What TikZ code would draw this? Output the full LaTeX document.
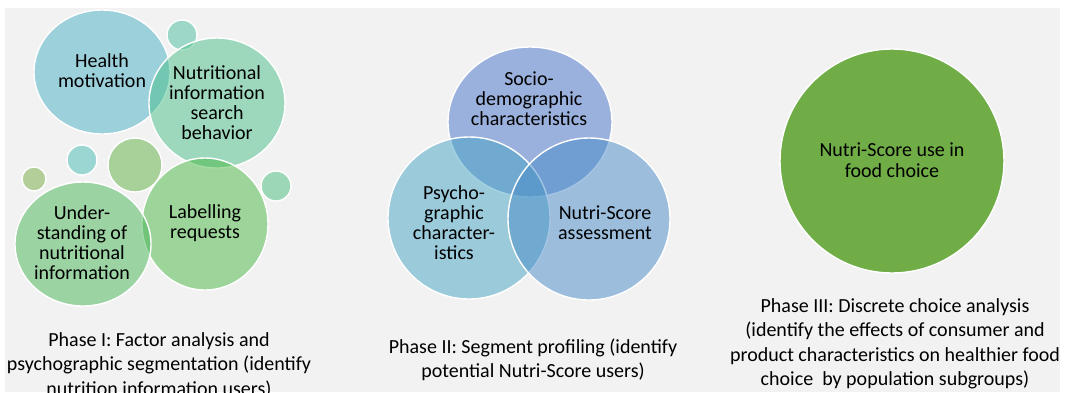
\documentclass[tikz,border=0pt]{standalone}
\usepackage{fontspec}
\setmainfont{Carlito}
\usepackage{tikz}

\definecolor{panelgrey}{RGB}{242,242,242}
\definecolor{healthc}{RGB}{72,176,198}
\definecolor{searchc}{RGB}{74,192,138}
\definecolor{understc}{RGB}{72,182,86}
\definecolor{labelc}{RGB}{72,184,66}
\definecolor{dotteal}{RGB}{72,190,158}
\definecolor{dotcyan}{RGB}{70,188,182}
\definecolor{dotolive}{RGB}{94,178,66}
\definecolor{dotkhaki}{RGB}{118,172,66}
\definecolor{dotmint}{RGB}{72,190,126}
\definecolor{socioc}{RGB}{70,114,202}
\definecolor{psychoc}{RGB}{70,164,196}
\definecolor{scorec}{RGB}{72,140,200}
\definecolor{choicec}{RGB}{112,173,71}

\tikzset{
  bubble/.style={draw=white, line width=1.4pt, fill opacity=0.5},
  bubbletext/.style={align=center, inner sep=0pt, font=\fontsize{20}{20}\selectfont},
  phasetext/.style={align=center, inner sep=0pt, font=\fontsize{20}{24.5}\selectfont}
}

\begin{document}
\begin{tikzpicture}[x=1pt,y=-1pt]
\useasboundingbox (0,0) rectangle (1071,392);
\clip (0,0) rectangle (1071,392);
\fill[panelgrey] (5,8) rectangle (1060,392);

% Phase I: bubbles
\draw[bubble, fill=dotteal] (182,35) circle[radius=15pt];
\draw[bubble, fill=healthc] (102,72) ellipse[x radius=68pt, y radius=62pt];
\draw[bubble, fill=searchc] (217,103) ellipse[x radius=68pt, y radius=65pt];
\draw[bubble, fill=dotcyan] (82,160) circle[radius=15pt];
\draw[bubble, fill=dotolive] (135,165) circle[radius=27pt];
\draw[bubble, fill=dotkhaki] (34,179) circle[radius=12pt];
\draw[bubble, fill=dotmint] (276,186) circle[radius=15pt];
\draw[bubble, fill=labelc] (205,224) ellipse[x radius=63pt, y radius=66pt];
\draw[bubble, fill=understc] (83,244) ellipse[x radius=68pt, y radius=62pt];
\node[bubbletext] (health) at (102,71) {Health\\ motivation};
\node[bubbletext] (search) at (217,103) {Nutritional\\ information\\ search\\ behavior};
\node[bubbletext] (underst) at (82,243) {Under-\\ standing of\\ nutritional\\ information};
\node[bubbletext] (labelling) at (205,223) {Labelling\\ requests};
\node[phasetext] (phaseone) at (159,365) {Phase I: Factor analysis and\\ psychographic segmentation (identify\\ nutrition information users)};

% Phase II: Venn
\draw[bubble, fill=socioc] (530,122) ellipse[x radius=82pt, y radius=75pt];
\draw[bubble, fill=psychoc] (469,218) circle[radius=81pt];
\draw[bubble, fill=scorec] (589,219) circle[radius=81pt];
\node[bubbletext] (socio) at (529,99) {Socio-\\ demographic\\ characteristics};
\node[bubbletext] (psycho) at (454,223) {Psycho-\\ graphic\\ character-\\ istics};
\node[bubbletext] (score) at (605,223) {Nutri-Score\\ assessment};
\node[phasetext] (phasetwo) at (533,360) {Phase II: Segment profiling (identify\\ potential Nutri-Score users)};

% Phase III
\draw[bubble, fill=choicec, fill opacity=1] (892,161) circle[radius=112pt];
\node[bubbletext, font=\fontsize{20}{21}\selectfont] (choice) at (892,160) {Nutri-Score use in\\ food choice};
\node[phasetext] (phasethree) at (895,344) {Phase III: Discrete choice analysis\\ (identify the effects of consumer and\\ product characteristics on healthier food\\ choice\ \ by population subgroups)};
\end{tikzpicture}
\end{document}
